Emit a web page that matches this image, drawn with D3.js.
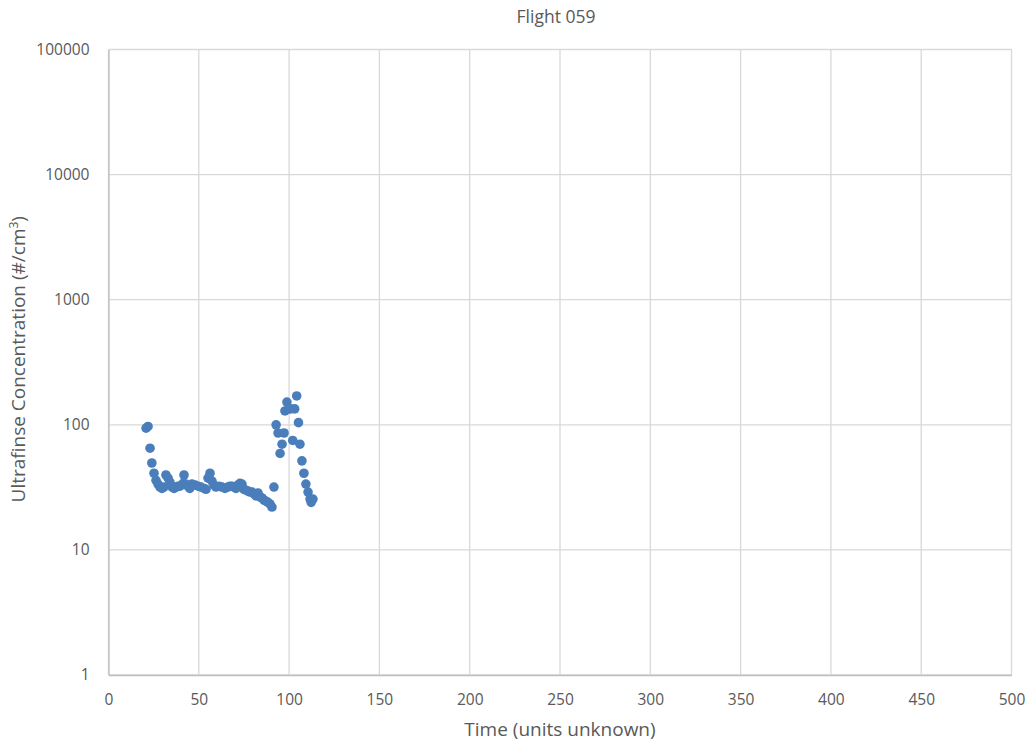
<!DOCTYPE html>
<html>
<head>
<meta charset="utf-8">
<script src="https://cdn.jsdelivr.net/npm/d3@7"></script>
<style>
  body { margin: 0; background: #fff; }
  svg text { font-family: "Open Sans", "Liberation Sans", sans-serif; fill: #595959; }
</style>
</head>
<body>
<script>
// time values (x) and concentrations (y)
const times = [20.8, 21.9, 23, 24, 25.2, 26.3, 27.4, 28.5, 29.6, 30.7, 31.8, 33, 34, 35.2, 36.3, 37.4,
  38.5, 39.6, 41.3, 41.8, 42.9, 44, 45, 46.2, 48, 49.6, 51.2, 52.9, 54, 55.1, 56.2, 57.3, 58.4, 59.5,
  61.2, 62.8, 64.5, 66.2, 67.3, 68.4, 69.5, 70.6, 71.7, 72.8, 73.9, 75, 76.1, 77.2, 78.3, 79.5, 80.6,
  81.7, 82.8, 83.9, 85, 86.1, 87.2, 88.3, 89.4, 90.5, 91.6, 92.8, 93.9, 95, 96.1, 97.2, 97.7, 98.8,
  99.8, 100.9, 102, 103.1, 104.2, 105.2, 106, 107.1, 108.2, 109.3, 110.5, 111.6, 112.2, 113.2];
const concentrations = [94, 97, 65, 49.5, 41, 36, 33.6, 31.8, 31, 31.8, 39.7, 37.5, 34.8, 31.8, 31, 31.8,
  32.3, 32.3, 34, 39.7, 33.6, 32.3, 31, 33.6, 33, 32.3, 31.8, 31, 30.5, 37.5, 41, 35.5, 33, 31.8,
  32.3, 31.8, 31, 31.8, 32.3, 32.3, 31.8, 31, 33, 34, 33.6, 30.5, 30, 29.5, 29, 29, 28,
  27, 28.5, 26.5, 26, 25, 24.5, 24, 23.3, 22, 31.8, 100, 86, 59, 70, 86, 129, 152,
  134, 134, 75, 134, 170, 104, 70, 51.5, 41, 33.6, 29, 25.5, 24, 25.5];

const xTicks = [0, 50, 100, 150, 200, 250, 300, 350, 400, 450, 500];
const yTicks = [1, 10, 100, 1000, 10000, 100000];

const W = 1030, H = 744;
const margin = {top: 49.5, right: 18.5, bottom: 69, left: 108.5};
const plotW = W - margin.left - margin.right;
const plotH = H - margin.top - margin.bottom;

const svg = d3.select('body').append('svg')
  .attr('width', W)
  .attr('height', H);

const g = svg.append('g')
  .attr('transform', `translate(${margin.left}, ${margin.top})`);

const x = d3.scaleLinear().domain([0, 500]).range([0, plotW]);
const y = d3.scaleLog().domain([1, 100000]).range([plotH, 0]);

// gridlines
g.append('g')
  .selectAll('line')
  .data(xTicks)
  .enter().append('line')
  .attr('x1', d => x(d)).attr('x2', d => x(d))
  .attr('y1', 0).attr('y2', plotH)
  .attr('stroke', '#d9d9d9').attr('stroke-width', 1.3);

g.append('g')
  .selectAll('line')
  .data(yTicks)
  .enter().append('line')
  .attr('x1', 0).attr('x2', plotW)
  .attr('y1', d => y(d)).attr('y2', d => y(d))
  .attr('stroke', '#d9d9d9').attr('stroke-width', 1.3);

// axes
const xAxis = g.append('g')
  .attr('transform', `translate(0, ${plotH})`)
  .call(d3.axisBottom(x).tickValues(xTicks).tickSize(0).tickPadding(19).tickFormat(d3.format('d')));
xAxis.select('.domain').attr('stroke', '#bfbfbf').attr('stroke-width', 1.3);
xAxis.selectAll('text').style('font-size', '15.5px').attr('fill', '#595959');

const yAxis = g.append('g')
  .call(d3.axisLeft(y).tickValues(yTicks).tickSize(0).tickPadding(19).tickFormat(d3.format('d')));
yAxis.select('.domain').attr('stroke', '#bfbfbf').attr('stroke-width', 1.3);
yAxis.selectAll('text').style('font-size', '15.5px').attr('fill', '#595959');

// points
g.append('g')
  .selectAll('circle')
  .data(times.map((t, i) => ({t: t, c: concentrations[i]})))
  .enter().append('circle')
  .attr('cx', d => x(d.t))
  .attr('cy', d => y(d.c))
  .attr('r', 4.8)
  .attr('fill', '#4a7ebb');

// title and axis labels
svg.append('text')
  .attr('x', margin.left + plotW / 2 - 4)
  .attr('y', 23)
  .attr('text-anchor', 'middle')
  .style('font-size', '17.5px')
  .text('Flight 059');

svg.append('text')
  .attr('x', margin.left + plotW / 2)
  .attr('y', 736)
  .attr('text-anchor', 'middle')
  .style('font-size', '19px')
  .text('Time (units unknown)');

const yLabel = svg.append('text')
  .attr('transform', `translate(25, ${margin.top + plotH / 2 - 3}) rotate(-90)`)
  .attr('text-anchor', 'middle')
  .style('font-size', '19px');
yLabel.append('tspan').text('Ultrafinse Concentration (#/cm');
yLabel.append('tspan').attr('dy', -7).style('font-size', '12px').text('3');
yLabel.append('tspan').attr('dy', 7).text(')');
</script>
</body>
</html>
